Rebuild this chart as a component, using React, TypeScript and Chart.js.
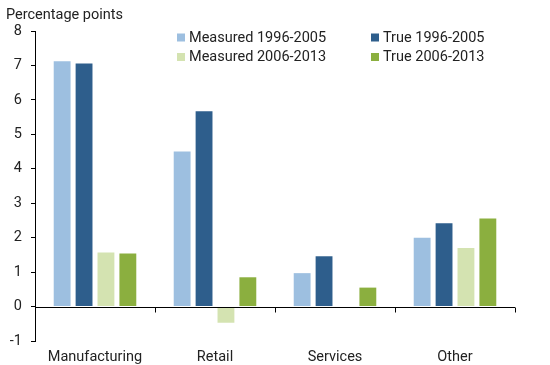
import React, { useEffect, useRef } from "react";
import { Chart, registerables } from "chart.js";

Chart.register(...registerables);

const categories = ["Manufacturing", "Retail", "Services", "Other"];
const measured9605 = [7.12, 4.5, 0.97, 2.0];
const true9605 = [7.06, 5.67, 1.46, 2.42];
const measured0613 = [1.57, -0.47, -0.03, 1.7];
const true0613 = [1.54, 0.85, 0.55, 2.56];
const seriesLabels = ["Measured 1996-2005", "True 1996-2005", "Measured 2006-2013", "True 2006-2013"];
const seriesColors = ["#9DBFE0", "#2E5E8C", "#D4E3B1", "#8BAF3F"];
const yTitle = "Percentage points";

const FONT = "Roboto, 'Noto Sans', sans-serif";
const TEXT = "#222222";
const FS = 14.5;

const overlayPlugin = {
  id: "overlay",
  afterDraw(chart: any) {
    const ctx = chart.ctx;
    const y = chart.scales.y;
    const area = chart.chartArea;
    ctx.save();
    const y0 = Math.round(y.getPixelForValue(0)) + 0.5;
    ctx.strokeStyle = "#000";
    ctx.lineWidth = 1;
    ctx.beginPath();
    ctx.moveTo(area.left, y0);
    ctx.lineTo(area.right, y0);
    const n = categories.length;
    for (let i = 1; i <= n; i++) {
      const px = Math.round(area.left + ((area.right - area.left) * i) / n) + 0.5;
      ctx.moveTo(px, y0);
      ctx.lineTo(px, y0 + 5);
    }
    ctx.stroke();
    ctx.fillStyle = TEXT;
    ctx.font = `${FS}px ${FONT}`;
    ctx.textBaseline = "alphabetic";
    ctx.textAlign = "left";
    ctx.fillText(yTitle, 6, 18.5);
    const colX = [177, 371];
    const rowY = [37.5, 57];
    chart.data.datasets.forEach((ds: any, i: number) => {
      const cx = colX[i % 2];
      const cy = rowY[Math.floor(i / 2)];
      ctx.fillStyle = ds.backgroundColor;
      ctx.fillRect(cx, cy - 4, 8, 8);
      ctx.fillStyle = TEXT;
      ctx.font = `${FS}px ${FONT}`;
      ctx.textBaseline = "middle";
      ctx.fillText(ds.label, cx + 12, cy + 0.5);
    });
    ctx.restore();
  },
};

export default function App() {
  const ref = useRef<HTMLCanvasElement>(null);
  useEffect(() => {
    document.body.style.margin = "0";
    const values = [measured9605, true9605, measured0613, true0613];
    const chart = new Chart(ref.current!, {
      type: "bar",
      data: {
        labels: categories,
        datasets: values.map((v, i) => ({
          label: seriesLabels[i],
          data: v,
          backgroundColor: seriesColors[i],
          categoryPercentage: 0.73,
          barPercentage: 0.77,
        })),
      },
      options: {
        animation: false,
        responsive: false,
        layout: { padding: { top: 31, right: 35, left: 0, bottom: 0 } },
        plugins: { legend: { display: false }, tooltip: { enabled: false } },
        scales: {
          x: {
            grid: { display: false, drawTicks: false },
            border: { display: false },
            ticks: { color: TEXT, font: { family: FONT, size: FS }, padding: 8, maxRotation: 0 },
            afterFit: (s: any) => { s.height = 24; },
          },
          y: {
            min: -1,
            max: 8,
            ticks: { stepSize: 1, color: TEXT, font: { family: FONT, size: FS }, padding: 9 },
            grid: { drawOnChartArea: false, tickLength: 4, color: "#000" },
            border: { display: true, color: "#000" },
            afterFit: (s: any) => { s.width = 35; },
          },
        },
      },
      plugins: [overlayPlugin],
    });
    return () => chart.destroy();
  }, []);
  return (
    <div style={{ width: 550, height: 365, background: "#fff" }}>
      <canvas ref={ref} width={550} height={365} />
    </div>
  );
}
